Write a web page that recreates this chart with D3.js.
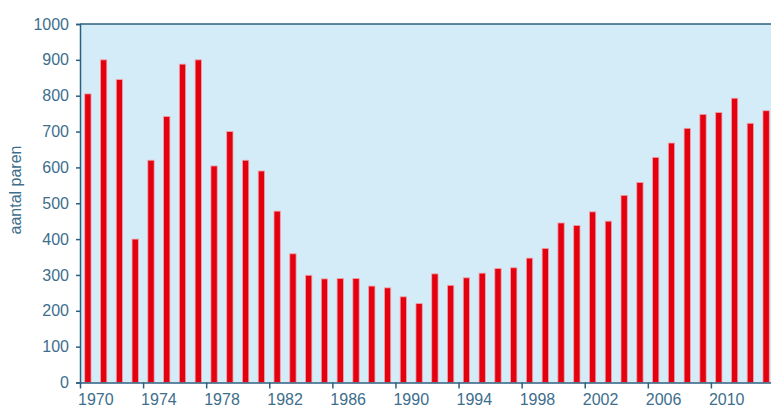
<!DOCTYPE html>
<html>
<head>
<meta charset="utf-8">
<script src="https://cdn.jsdelivr.net/npm/d3@7"></script>
<style>
  body { margin: 0; background: #fff; }
  svg text { font-family: "Liberation Sans", Arial, sans-serif; }
</style>
</head>
<body>
<svg class="chart"></svg>
<script>
// aantal broedparen per jaar
var years = d3.range(1970, 2014);
var pairs = [805, 900, 845, 400, 620, 742, 888, 900, 604, 700,
             620, 590, 478, 359, 299, 289, 290, 290, 269, 264,
             239, 220, 303, 271, 292, 305, 318, 320, 347, 374,
             445, 438, 476, 450, 522, 558, 628, 668, 709, 748,
             753, 793, 723, 758];
var yTicks = [0, 100, 200, 300, 400, 500, 600, 700, 800, 900, 1000];
var xTickYears = [1970, 1974, 1978, 1982, 1986, 1990, 1994, 1998, 2002, 2006, 2010];

var width = 771, height = 414;
var plotLeft = 80, plotTop = 24, plotBottom = 382.5, plotRight = 774;
var axisColor = "#2b5f7f", textColor = "#3d6e8c";

var svg = d3.select(".chart").attr("width", width).attr("height", height);

var x = d3.scaleBand().domain(years).range([plotLeft, plotRight]).paddingInner(0.6).paddingOuter(0.3);
var y = d3.scaleLinear().domain([0, 1000]).range([plotBottom, plotTop]);

// background
svg.append("rect")
  .attr("x", plotLeft).attr("y", plotTop)
  .attr("width", plotRight - plotLeft).attr("height", plotBottom - plotTop)
  .attr("fill", "#d4ebf8");

// bars
svg.append("g").selectAll("rect")
  .data(years)
  .enter()
  .append("rect")
    .attr("x", function(d){ return x(d); })
    .attr("y", function(d, i){ return y(pairs[i]); })
    .attr("width", x.bandwidth())
    .attr("height", function(d, i){ return plotBottom - y(pairs[i]); })
    .attr("fill", "#e3000f")
    .attr("stroke", "#f0a3aa")
    .attr("stroke-width", 0.8);

// top line
svg.append("line")
  .attr("x1", plotLeft).attr("x2", width)
  .attr("y1", plotTop).attr("y2", plotTop)
  .attr("stroke", axisColor).attr("stroke-width", 1.5);

// y axis
var yAxis = d3.axisLeft(y).tickValues(yTicks).tickSize(4).tickPadding(7)
  .tickFormat(d3.format("d"));
var gY = svg.append("g").attr("transform", "translate(" + plotLeft + ",0)").call(yAxis);
gY.select(".domain").attr("stroke", axisColor).attr("stroke-width", 1.5);
gY.selectAll(".tick line").attr("stroke", axisColor).attr("stroke-width", 1.5);
gY.selectAll(".tick text").attr("fill", textColor).attr("font-size", 16);

// x axis, ticks at the start of each labelled year
var xStart = d3.scaleLinear().domain([1970, 2014]).range([plotLeft, plotRight]);
var xAxis = d3.axisBottom(xStart).tickValues(xTickYears).tickSize(6)
  .tickFormat(d3.format("d")).tickSizeOuter(0);
var gX = svg.append("g").attr("transform", "translate(0," + plotBottom + ")").call(xAxis);
gX.select(".domain").attr("stroke", axisColor).attr("stroke-width", 1.5);
gX.selectAll(".tick line").attr("stroke", axisColor).attr("stroke-width", 1.5);
gX.selectAll(".tick text")
  .attr("fill", textColor).attr("font-size", 16)
  .attr("text-anchor", "start").attr("x", -2.5).attr("y", 11);

// y label
svg.append("text")
  .attr("transform", "translate(21,190) rotate(-90)")
  .attr("text-anchor", "middle")
  .attr("fill", textColor)
  .attr("font-size", 16)
  .text("aantal paren");
</script>
</body>
</html>
